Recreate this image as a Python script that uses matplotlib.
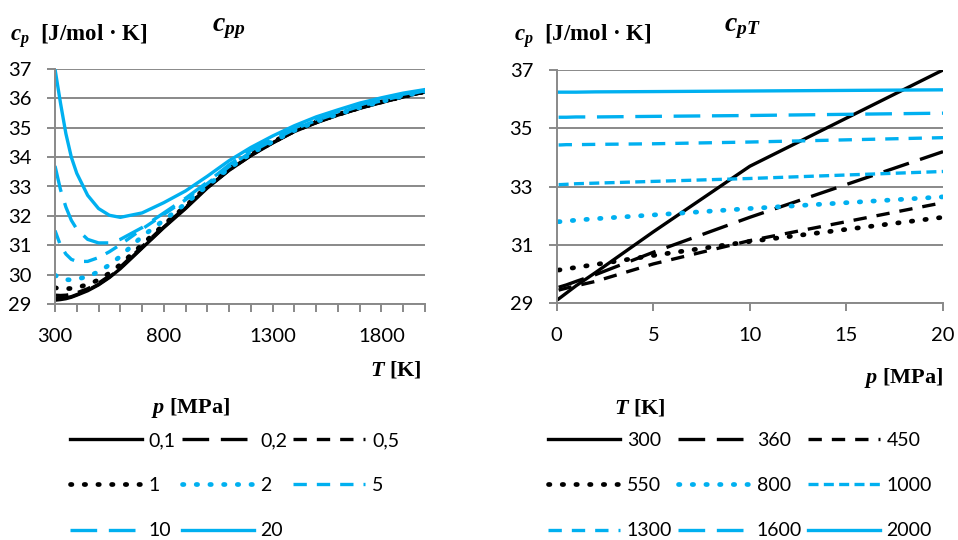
import matplotlib
matplotlib.use('Agg')
import matplotlib.pyplot as plt

plt.rcParams['font.family'] = ['Lato', 'DejaVu Sans']
plt.rcParams['mathtext.fontset'] = 'custom'
plt.rcParams['mathtext.it'] = 'Liberation Serif:italic:bold'
plt.rcParams['mathtext.rm'] = 'Liberation Serif:bold'
plt.rcParams['mathtext.bf'] = 'Liberation Serif:bold'

BLUE = '#00B0F0'
GRID = '#898989'

# ---- left chart: cp over T, one curve per pressure ----
T = [300, 325, 350, 375, 400, 450, 500, 550, 600, 700, 800, 900, 1000,
     1100, 1200, 1300, 1400, 1500, 1600, 1700, 1800, 1900, 2000]
p_labels = ['0,1', '0,2', '0,5', '1', '2', '5', '10', '20']

cp_p01 = [29.13, 29.15, 29.18, 29.23, 29.30, 29.45, 29.65, 29.90, 30.20, 30.90, 31.60, 32.25, 32.95,
          33.55, 34.05, 34.48, 34.87, 35.17, 35.43, 35.66, 35.86, 36.05, 36.22]
cp_p02 = [29.18, 29.19, 29.21, 29.25, 29.32, 29.47, 29.67, 29.92, 30.22, 30.92, 31.62, 32.27, 32.97,
          33.56, 34.06, 34.49, 34.88, 35.18, 35.44, 35.67, 35.87, 36.05, 36.22]
cp_p05 = [29.30, 29.29, 29.30, 29.33, 29.38, 29.52, 29.71, 29.96, 30.26, 30.95, 31.65, 32.29, 32.98,
          33.57, 34.07, 34.50, 34.89, 35.19, 35.44, 35.67, 35.87, 36.06, 36.23]
cp_p1 = [29.55, 29.53, 29.52, 29.53, 29.56, 29.66, 29.82, 30.05, 30.34, 31.02, 31.70, 32.33, 33.00,
         33.59, 34.09, 34.51, 34.90, 35.20, 35.45, 35.68, 35.88, 36.06, 36.23]
cp_p2 = [29.98, 29.88, 29.83, 29.82, 29.85, 29.93, 30.10, 30.33, 30.62, 31.30, 31.85, 32.42, 33.03,
          33.62, 34.12, 34.53, 34.91, 35.21, 35.46, 35.69, 35.89, 36.08, 36.24]
cp_p5 = [31.50, 31.00, 30.70, 30.52, 30.45, 30.45, 30.58, 30.78, 31.02, 31.55, 32.05, 32.55, 33.10,
         33.68, 34.17, 34.57, 34.95, 35.25, 35.50, 35.73, 35.92, 36.10, 36.26]
cp_p10 = [33.70, 32.90, 32.30, 31.85, 31.55, 31.20, 31.08, 31.08, 31.20, 31.60, 32.10, 32.60, 33.15,
          33.74, 34.23, 34.63, 35.00, 35.30, 35.55, 35.78, 35.97, 36.14, 36.28]
cp_p20 = [37.00, 35.85, 34.80, 34.00, 33.45, 32.70, 32.25, 32.02, 31.95, 32.10, 32.45, 32.85, 33.35,
          33.88, 34.33, 34.72, 35.07, 35.37, 35.61, 35.84, 36.02, 36.18, 36.30]

# ---- right chart: cp over p, one line per temperature ----
p = [0.1, 0.2, 0.5, 1, 2, 5, 10, 20]
T_labels = ['300', '360', '450', '550', '800', '1000', '1300', '1600', '2000']

cp_T300 = [29.15, 29.20, 29.35, 29.60, 30.05, 31.45, 33.70, 37.00]
cp_T360 = [29.55, 29.57, 29.63, 29.75, 29.98, 30.75, 31.95, 34.20]
cp_T450 = [29.45, 29.47, 29.52, 29.60, 29.75, 30.35, 31.15, 32.45]
cp_T550 = [30.14, 30.15, 30.18, 30.23, 30.33, 30.64, 31.12, 31.95]
cp_T800 = [31.80, 31.80, 31.82, 31.85, 31.90, 32.03, 32.25, 32.65]
cp_T1000 = [33.07, 33.07, 33.08, 33.10, 33.12, 33.18, 33.28, 33.52]
cp_T1300 = [34.43, 34.43, 34.44, 34.44, 34.45, 34.47, 34.53, 34.68]
cp_T1600 = [35.38, 35.38, 35.38, 35.39, 35.39, 35.41, 35.44, 35.52]
cp_T2000 = [36.24, 36.24, 36.24, 36.24, 36.25, 36.26, 36.28, 36.32]

# line styles (Excel-like)
solid = dict(ls='-', lw=2.4)
longdash = dict(ls=(0, (8, 3.5)), lw=2.4)
dash = dict(ls=(0, (4, 3)), lw=2.4)
sqdot = dict(ls=(0, (3, 1.6)), lw=2.4)
rdot = dict(ls=(0, (0.3, 2.6)), lw=3.4, dash_capstyle='round')

left_series = [
    (cp_p01, 'black', solid), (cp_p02, 'black', longdash), (cp_p05, 'black', dash),
    (cp_p1, 'black', rdot), (cp_p2, BLUE, rdot), (cp_p5, BLUE, dash),
    (cp_p10, BLUE, longdash), (cp_p20, BLUE, solid),
]
right_series = [
    (cp_T300, 'black', solid), (cp_T360, 'black', longdash), (cp_T450, 'black', dash),
    (cp_T550, 'black', rdot), (cp_T800, BLUE, rdot), (cp_T1000, BLUE, sqdot),
    (cp_T1300, BLUE, dash), (cp_T1600, BLUE, longdash), (cp_T2000, BLUE, solid),
]

W, H = 958, 540
fig = plt.figure(figsize=(W / 100, H / 100), dpi=100)
axL = fig.add_axes([55 / W, 1 - 304 / H, 370 / W, 235 / H])
axR = fig.add_axes([556.7 / W, 1 - 303.3 / H, 386.3 / W, 233.3 / H])


def style_axes(ax):
    for s in ['top', 'right']:
        ax.spines[s].set_visible(False)
    for s in ['left', 'bottom']:
        ax.spines[s].set_color(GRID)
        ax.spines[s].set_linewidth(1.4)
    ax.grid(axis='y', color=GRID, lw=1.4)
    ax.set_axisbelow(True)
    ax.tick_params(which='both', direction='out', length=6, width=1.4, color=GRID,
                   labelsize=14.5, labelcolor='black')
    ax.tick_params(axis='x', which='both', pad=11)
    ax.tick_params(axis='y', pad=11)


hL = []
for vals, col, st in left_series:
    line, = axL.plot(T, vals, color=col, **st)
    hL.append(line)
axL.set_xlim(300, 2000)
axL.set_ylim(29, 37)
axL.set_xticks(range(300, 2001, 500))
axL.set_xticks(range(300, 2001, 100), minor=True)
axL.set_yticks(range(29, 38))
style_axes(axL)

hR = []
for vals, col, st in right_series:
    line, = axR.plot(p, vals, color=col, **st)
    hR.append(line)
axR.set_xlim(0, 20)
axR.set_ylim(29, 37)
axR.set_xticks(range(0, 21, 5))
axR.set_yticks(range(29, 38, 2))
style_axes(axR)

serif = dict(family='Liberation Serif', weight='bold')

# axis captions and titles
fig.text(10 / W, 1 - 36 / H, r'$c_p$  [J/mol · K]', fontsize=16.5, va='center', **serif)
fig.text(514 / W, 1 - 36 / H, r'$c_p$  [J/mol · K]', fontsize=16.5, va='center', **serif)
fig.text(229 / W, 1 - 28 / H, r'$c_{pp}$', fontsize=20, ha='center', va='center', **serif)
fig.text(742 / W, 1 - 28 / H, r'$c_{pT}$', fontsize=20, ha='center', va='center', **serif)
fig.text(422 / W, 1 - 370 / H, r'$T$ [K]', fontsize=16, ha='right', va='center', **serif)
fig.text(943 / W, 1 - 378 / H, r'$p$ [MPa]', fontsize=16, ha='right', va='center', **serif)
fig.text(151 / W, 1 - 408 / H, r'$p$ [MPa]', fontsize=16, va='center', **serif)
fig.text(614 / W, 1 - 408 / H, r'$T$ [K]', fontsize=16, va='center', **serif)

# legends: matplotlib fills columns first, so reorder to read row-wise
orderL = [0, 3, 6, 1, 4, 7, 2, 5]
orderR = [0, 3, 6, 1, 4, 7, 2, 5, 8]
leg_kw = dict(ncol=3, loc='upper left', frameon=False, fontsize=14, handlelength=3.7,
              handletextpad=0.35, columnspacing=0.3, labelspacing=1.45,
              borderpad=0, borderaxespad=0)
fig.legend([hL[i] for i in orderL], [p_labels[i] for i in orderL],
           bbox_to_anchor=(70 / W, 1 - 432 / H), **leg_kw)
fig.legend([hR[i] for i in orderR], [T_labels[i] for i in orderR],
           bbox_to_anchor=(548 / W, 1 - 432 / H), **leg_kw)

fig.savefig('out.png', dpi=100)
